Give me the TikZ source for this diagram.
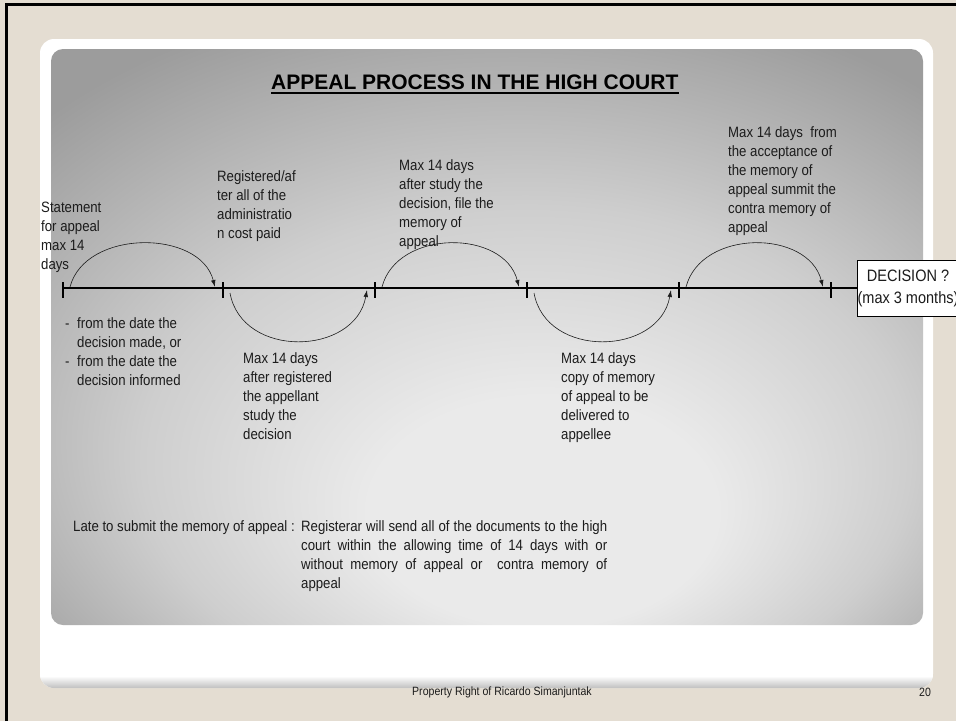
\documentclass[tikz,border=0pt]{standalone}
\usepackage{fontspec}
\setmainfont{Liberation Sans}[FakeStretch=0.88]
\newfontfamily\headfont{Liberation Sans}
\usetikzlibrary{arrows.meta}
\definecolor{PageBeige}{RGB}{228,221,210}
\definecolor{InkGray}{RGB}{28,28,28}
\definecolor{PanelLight}{RGB}{234,234,234}
\definecolor{PanelMid}{RGB}{206,206,206}
\definecolor{PanelDark}{RGB}{156,156,156}
% soft glow of the grey panel, brightest low in the middle
\pgfdeclareradialshading{panelglow}{\pgfpoint{4bp}{-19bp}}{%
  color(0bp)=(PanelLight); color(10bp)=(PanelLight);
  color(22bp)=(PanelMid); color(36bp)=(PanelDark); color(50bp)=(PanelDark)}

\begin{document}
\begin{tikzpicture}[x=1pt,y=-1pt,>={Latex[length=7pt,width=4.5pt]},
  note/.style={anchor=north west,inner sep=0pt,align=left,text=InkGray,
    font=\fontsize{15}{19}\selectfont},
  jump/.style={->,semithick,InkGray},
  tickmark/.style={line width=1.6pt}]
  \useasboundingbox (0,0) rectangle (956,721);
  \clip (0,0) rectangle (956,721);

  % slide frame
  \fill[PageBeige] (0,0) rectangle (956,721);
  \draw[line width=3pt] (6,721) -- (6,4) -- (956,4);
  \fill[white,rounded corners=14pt] (40,39) rectangle (933,688);
  \begin{scope}
    \clip[rounded corners=14pt] (40,39) rectangle (933,688);
    \shade[top color=white,bottom color=black!25] (40,676) rectangle (933,688);
  \end{scope}
  \shade[shading=panelglow,rounded corners=12pt] (51,49) rectangle (923,625);

  % heading
  \node[anchor=base west,inner sep=0pt,text=black,
        font=\headfont\bfseries\fontsize{21}{25}\selectfont] (title) at (271,89)
       {APPEAL PROCESS IN THE HIGH COURT};
  \draw[line width=2pt] ([yshift=-3.5pt]title.base west) -- ([yshift=-3.5pt]title.base east);

  % time line with its stages
  \foreach \n/\x in {1/63,2/223,3/375,4/527,5/679,6/831}
    \coordinate (t\n) at (\x,288);
  \node[draw,fill=white,inner xsep=0pt,minimum width=102pt,align=center,
        minimum height=56pt,line width=0.6pt,text=InkGray,
        font=\fontsize{16.5}{22}\selectfont] (verdict) at (908,288)
       {DECISION ?\\(max 3 months)};
  \draw[line width=1.8pt] (t1) -- (verdict.west);
  \foreach \n in {1,...,6}
    \draw[tickmark] ([yshift=6pt]t\n) -- ([yshift=-10pt]t\n);

  \foreach \a/\b in {1/2,3/4,5/6}
    \draw[jump] ([xshift=7pt,yshift=1pt]t\a) .. controls +(15,-58) and +(-15,-58)
      .. ([xshift=-8pt,yshift=1pt]t\b);
  \foreach \a/\b in {2/3,4/5}
    \draw[jump] ([xshift=7pt,yshift=-5pt]t\a) .. controls +(12,66) and +(-12,66)
      .. ([xshift=-8pt,yshift=-2pt]t\b);

  % stage notes
  \node[note] (filing) at (41,201.5) {Statement\\for appeal\\max 14\\days};
  \node[note] (registry) at (217,170.5)
       {Registered/af\\ter all of the\\administratio\\n cost paid};
  \node[note] (memory) at (399,159.5)
       {Max 14 days\\after study the\\decision, file the\\memory of\\appeal};
  \node[note] (contra) at (728,126.5)
       {Max 14 days~ from\\the acceptance of\\the memory of\\appeal summit the\\contra memory of\\appeal};
  \node[note] (dates) at (65,317.5)
       {\makebox[12pt][l]{-}from the date the\\\hspace*{12pt}decision made, or\\
        \makebox[12pt][l]{-}from the date the\\\hspace*{12pt}decision informed};
  \node[note] (study) at (243,352.5)
       {Max 14 days\\after registered\\the appellant\\study the\\decision};
  \node[note] (delivery) at (561,352.5)
       {Max 14 days\\copy of memory\\of appeal to be\\delivered to\\appellee};

  % late memory of appeal
  \node[note] (late) at (73,520.5) {Late to submit the memory of appeal :};
  \node[note] (rule) at (301,520.5)
       {\makebox[306pt][s]{Registerar will send all of the documents to the high}\\
        \makebox[306pt][s]{court within the allowing time of 14 days with or}\\
        \makebox[306pt][s]{without memory of appeal or~ contra memory of}\\
        appeal};

  % footer
  \node[inner sep=0pt,text=InkGray,font=\fontsize{12}{14}\selectfont] (owner) at (502,692)
       {Property Right of Ricardo Simanjuntak};
  \node[inner sep=0pt,text=InkGray,font=\fontsize{12}{14}\selectfont] (page) at (925,692) {20};
\end{tikzpicture}
\end{document}
